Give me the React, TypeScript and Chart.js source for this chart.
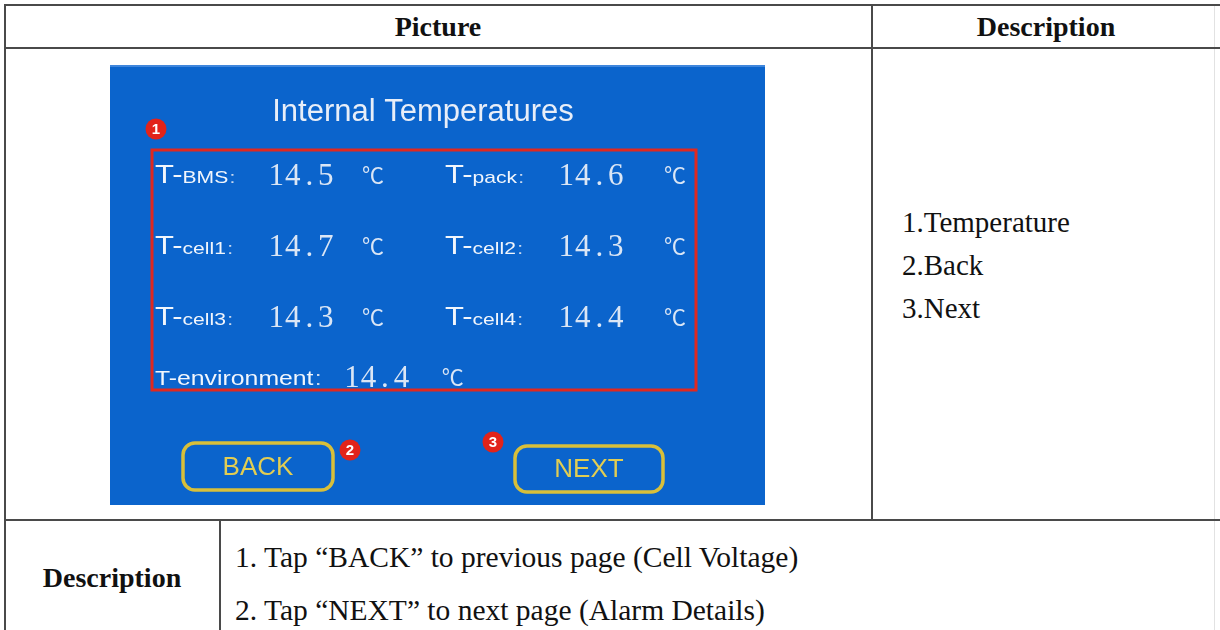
import React, { useEffect, useRef } from "react";
import { Chart, registerables } from "chart.js";

Chart.register(...registerables);

// ---- content ----
const HEADER_PICTURE = "Picture";
const HEADER_DESCRIPTION = "Description";
const SCREEN_TITLE = "Internal Temperatures";
const SENSOR_LABELS = ["BMS", "pack", "cell1", "cell2", "cell3", "cell4", "environment"];
const SENSOR_VALUES = [14.5, 14.6, 14.7, 14.3, 14.3, 14.4, 14.4];
const UNIT = "℃";
const BUTTON_LABELS = ["BACK", "NEXT"];
const BADGE_NUMBERS = ["1", "2", "3"];
const DESC_ITEMS = ["1.Temperature", "2.Back", "3.Next"];
const NOTES = [
  "1. Tap “BACK” to previous page (Cell Voltage)",
  "2. Tap “NEXT” to next page (Alarm Details)",
];

const PANEL_W = 655;
const PANEL_H = 440;
const SANS = "'Liberation Sans', Arial, sans-serif";

function drawBadge(ctx: CanvasRenderingContext2D, x: number, y: number, t: string) {
  ctx.save();
  ctx.beginPath();
  ctx.arc(x, y, 10.5, 0, Math.PI * 2);
  ctx.fillStyle = "#e2231a";
  ctx.fill();
  ctx.fillStyle = "#ffffff";
  ctx.font = "bold 15px " + SANS;
  ctx.textAlign = "center";
  ctx.textBaseline = "middle";
  ctx.fillText(t, x, y + 1);
  ctx.restore();
}

function drawButton(ctx: CanvasRenderingContext2D, x: number, y: number, w: number, h: number, label: string) {
  ctx.save();
  ctx.beginPath();
  ctx.roundRect(x, y, w, h, 12);
  ctx.lineWidth = 3.5;
  ctx.strokeStyle = "#d8bf3a";
  ctx.stroke();
  ctx.fillStyle = "#e2cd52";
  ctx.font = "26px " + SANS;
  ctx.textAlign = "center";
  ctx.textBaseline = "middle";
  ctx.fillText(label, x + w / 2, y + h / 2 + 1);
  ctx.restore();
}

const screenPlugin = {
  id: "screen",
  beforeDraw(chart: any) {
    const ctx: CanvasRenderingContext2D = chart.ctx;
    ctx.save();
    ctx.fillStyle = "#0b64cc";
    ctx.fillRect(0, 0, PANEL_W, PANEL_H);
    ctx.fillStyle = "#3f86dc";
    ctx.fillRect(0, 0, PANEL_W, 2);
    ctx.fillStyle = "#e8eef8";
    ctx.font = "31px " + SANS;
    ctx.textAlign = "center";
    ctx.textBaseline = "alphabetic";
    ctx.fillText(SCREEN_TITLE, 313, 56);
    ctx.lineWidth = 3;
    ctx.strokeStyle = "#e0281f";
    ctx.strokeRect(42, 85, 544, 240);
    ctx.restore();
    drawButton(ctx, 73, 378, 150, 47, BUTTON_LABELS[0]);
    drawButton(ctx, 405, 381, 148, 46, BUTTON_LABELS[1]);
    drawBadge(ctx, 46, 64, BADGE_NUMBERS[0]);
    drawBadge(ctx, 240, 385, BADGE_NUMBERS[1]);
    drawBadge(ctx, 383, 377, BADGE_NUMBERS[2]);
  },
  afterDatasetsDraw(chart: any) {
    const ctx: CanvasRenderingContext2D = chart.ctx;
    const meta = chart.getDatasetMeta(0);
    const unitOffset = [94, 106];
    const stretch = 1.24;
    meta.data.forEach((el: any, i: number) => {
      const x = el.x;
      const y = el.y;
      const isEnv = i >= 6;
      const col = isEnv ? 0 : i % 2;
      ctx.save();
      ctx.textBaseline = "alphabetic";
      ctx.textAlign = "left";
      // label, horizontally stretched like the device font
      ctx.save();
      ctx.translate(x, y);
      ctx.scale(stretch, 1);
      ctx.fillStyle = "#f2f6fc";
      ctx.font = (isEnv ? "20px " : "25px ") + SANS;
      ctx.fillText("T-", 0, 0);
      let w = ctx.measureText("T-").width;
      ctx.font = (isEnv ? "20px " : "17px ") + SANS;
      ctx.fillText(SENSOR_LABELS[i], w, 0);
      w += ctx.measureText(SENSOR_LABELS[i]).width;
      ctx.fillStyle = "#c8d8ee";
      ctx.fillText(":", w + 1, 0);
      w += ctx.measureText(":").width + 1;
      ctx.restore();
      const cx = x + w * stretch;
      // value, monospaced cells
      const vx = Math.max(x + 113, cx + 22);
      const txt = SENSOR_VALUES[i].toFixed(1);
      ctx.fillStyle = "#dbe6f5";
      ctx.font = "31px 'Liberation Serif', 'Times New Roman', serif";
      ctx.textAlign = "center";
      for (let k = 0; k < txt.length; k++) {
        ctx.fillText(txt[k], vx + k * 16.5 + 8.25, y + 2);
      }
      const ux = vx + (isEnv ? 98 : unitOffset[col]);
      ctx.textAlign = "left";
      ctx.font = "22px 'Noto Sans CJK SC', sans-serif";
      ctx.fillText(UNIT, ux, y);
      ctx.restore();
    });
  },
};

function Panel() {
  const ref = useRef<HTMLCanvasElement | null>(null);
  useEffect(() => {
    if (!ref.current) return;
    const points = SENSOR_VALUES.map((v, i) => ({
      x: i < 6 ? i % 2 : 0,
      y: i < 6 ? Math.floor(i / 2) : 2.85,
      v,
    }));
    const chart = new Chart(ref.current, {
      type: "scatter",
      data: {
        datasets: [
          {
            label: "Internal Temperatures",
            data: points,
            pointRadius: 0,
            pointHoverRadius: 0,
          },
        ],
      },
      options: {
        animation: false,
        responsive: false,
        devicePixelRatio: 1,
        layout: { padding: 0 },
        plugins: { legend: { display: false }, tooltip: { enabled: false } },
        events: [],
        scales: {
          x: { type: "linear", display: false, min: -45 / 290, max: -45 / 290 + PANEL_W / 290 },
          y: { type: "linear", display: false, reverse: true, min: -118 / 71, max: -118 / 71 + PANEL_H / 71 },
        },
      },
      plugins: [screenPlugin],
    });
    return () => chart.destroy();
  }, []);
  return (
    <canvas
      ref={ref}
      width={PANEL_W}
      height={PANEL_H}
      style={{ position: "absolute", left: 110, top: 65, width: PANEL_W, height: PANEL_H }}
    />
  );
}

const LINE = "#4a4a4a";
const serif = "'Liberation Serif', 'Times New Roman', serif";

function HLine({ x, y, w }: { x: number; y: number; w: number }) {
  return <div style={{ position: "absolute", left: x, top: y, width: w, height: 2, background: LINE }} />;
}
function VLine({ x, y, h, c }: { x: number; y: number; h: number; c?: string }) {
  return <div style={{ position: "absolute", left: x, top: y, width: c ? 1 : 2, height: h, background: c || LINE }} />;
}

export default function App() {
  useEffect(() => {
    document.body.style.margin = "0";
  }, []);
  const textBox = (left: number, width: number, cy: number, h: number, bold: boolean, align: any, size = 28) => ({
    position: "absolute" as const,
    left,
    width,
    top: cy - h / 2,
    height: h,
    lineHeight: h + "px",
    fontFamily: serif,
    fontSize: size,
    fontWeight: bold ? 700 : 400,
    color: "#111",
    textAlign: align,
    whiteSpace: "nowrap" as const,
  });
  return (
    <div style={{ position: "relative", width: 1220, height: 630, background: "#fff", overflow: "hidden" }}>
      <VLine x={1214} y={4} h={630} c="#e2e2e2" />
      <HLine x={4} y={4} w={1216} />
      <VLine x={4} y={4} h={630} />
      <HLine x={4} y={47} w={1216} />
      <VLine x={871} y={4} h={516} />
      <HLine x={4} y={519} w={1216} />
      <VLine x={219} y={519} h={120} />
      <div style={textBox(4, 868, 27, 40, true, "center")}>{HEADER_PICTURE}</div>
      <div style={textBox(872, 348, 27, 40, true, "center")}>{HEADER_DESCRIPTION}</div>
      {DESC_ITEMS.map((t, i) => (
        <div key={t} style={textBox(902, 300, 222 + i * 43, 40, false, "left", 29)}>{t}</div>
      ))}
      <div style={textBox(4, 216, 578, 40, true, "center")}>{HEADER_DESCRIPTION}</div>
      {NOTES.map((t, i) => (
        <div key={t} style={textBox(235, 900, 557 + i * 53, 40, false, "left", 29.5)}>{t}</div>
      ))}
      <Panel />
    </div>
  );
}
